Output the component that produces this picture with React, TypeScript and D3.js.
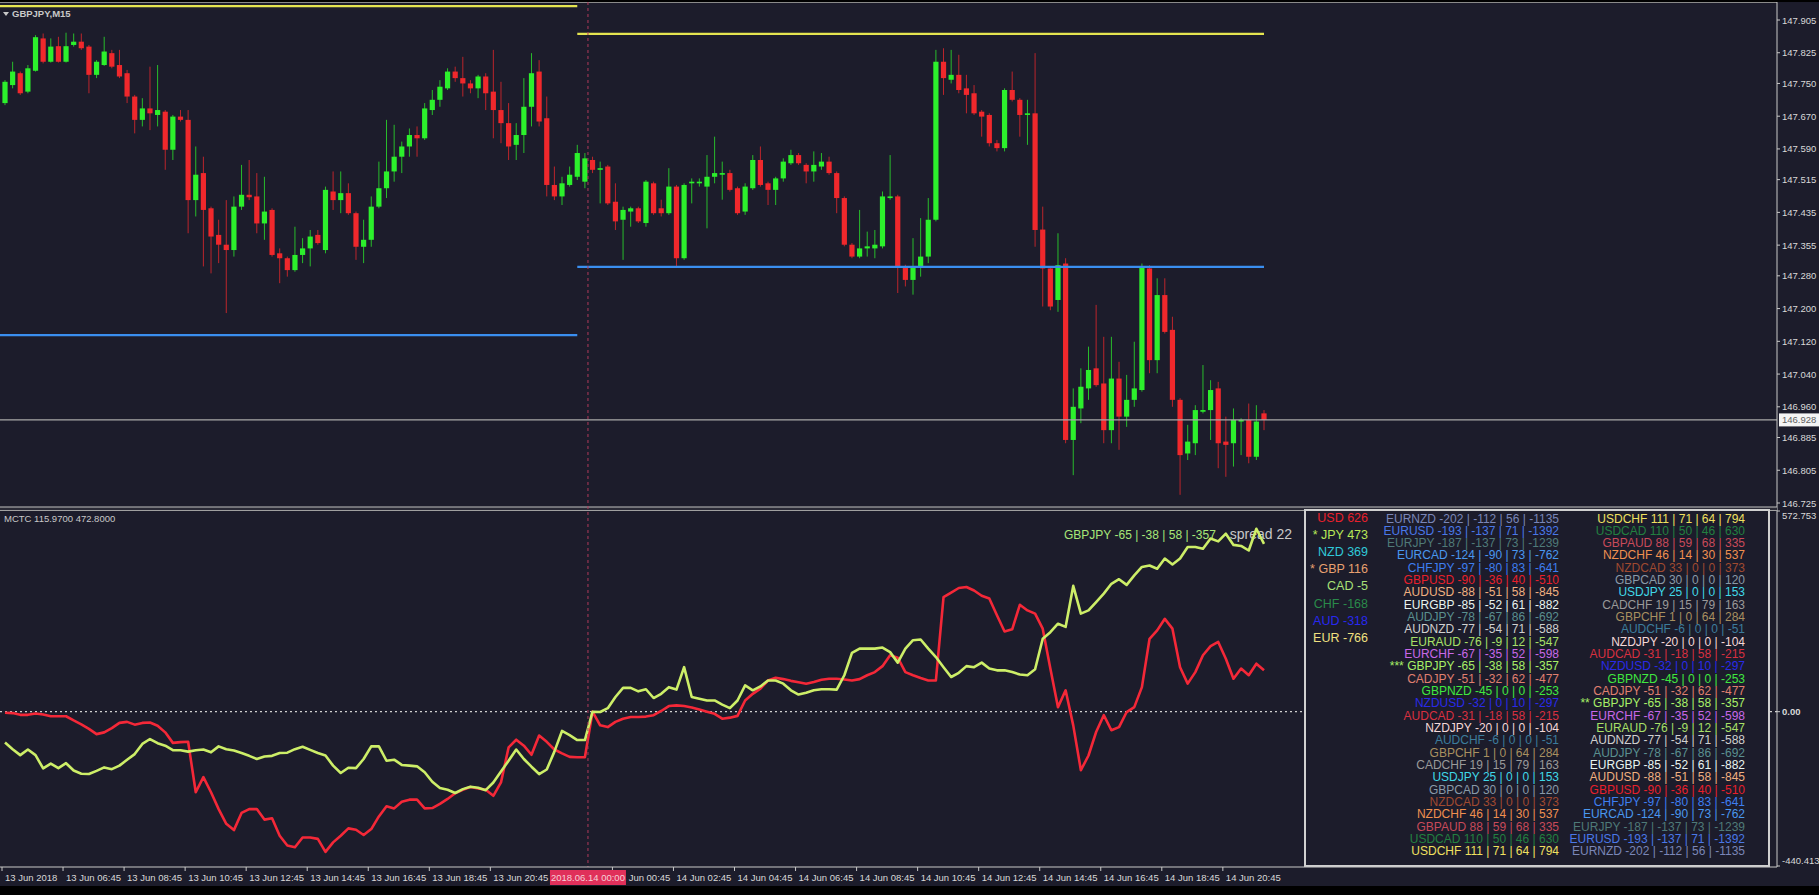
import React from "react"
import { scaleLinear, line } from "d3"

// chart frame
const WIDTH = 1819
const HEIGHT = 895
const BG = "#1c1c2b"
const AXIS_X = 1777
const SEP_Y = 509
const LOWER_BOTTOM = 867

// GBPJPY M15 candles [open, high, low, close], bar 0 = 13 Jun 04:45
const candles: [number, number, number, number][] = [
  [147.702, 147.758, 147.697, 147.754], [147.746, 147.803, 147.738, 147.779], [147.775, 147.779, 147.722, 147.726],
  [147.730, 147.795, 147.726, 147.787], [147.781, 147.868, 147.779, 147.863], [147.860, 147.872, 147.799, 147.803],
  [147.803, 147.860, 147.801, 147.840], [147.841, 147.864, 147.801, 147.803], [147.803, 147.874, 147.801, 147.841],
  [147.844, 147.872, 147.840, 147.852], [147.852, 147.872, 147.832, 147.836], [147.840, 147.844, 147.726, 147.771],
  [147.771, 147.807, 147.763, 147.803], [147.795, 147.864, 147.793, 147.828], [147.824, 147.832, 147.787, 147.791],
  [147.795, 147.832, 147.763, 147.767], [147.775, 147.783, 147.702, 147.718], [147.718, 147.722, 147.628, 147.661],
  [147.661, 147.714, 147.645, 147.689], [147.689, 147.791, 147.636, 147.677], [147.673, 147.795, 147.645, 147.685],
  [147.681, 147.685, 147.539, 147.588], [147.588, 147.673, 147.563, 147.669], [147.669, 147.685, 147.657, 147.661],
  [147.661, 147.685, 147.384, 147.465], [147.465, 147.596, 147.425, 147.527], [147.531, 147.571, 147.303, 147.441],
  [147.445, 147.449, 147.286, 147.376], [147.380, 147.417, 147.311, 147.356], [147.356, 147.465, 147.189, 147.343],
  [147.343, 147.474, 147.327, 147.449], [147.449, 147.551, 147.441, 147.478], [147.478, 147.563, 147.465, 147.472],
  [147.474, 147.531, 147.384, 147.408], [147.408, 147.522, 147.368, 147.437], [147.441, 147.445, 147.327, 147.331],
  [147.335, 147.347, 147.262, 147.323], [147.323, 147.327, 147.278, 147.294], [147.294, 147.400, 147.290, 147.331],
  [147.331, 147.372, 147.311, 147.347], [147.347, 147.392, 147.303, 147.376], [147.380, 147.392, 147.356, 147.360],
  [147.343, 147.498, 147.335, 147.490], [147.486, 147.535, 147.441, 147.465], [147.465, 147.535, 147.433, 147.482],
  [147.482, 147.506, 147.429, 147.433], [147.433, 147.437, 147.319, 147.351], [147.351, 147.417, 147.311, 147.368],
  [147.368, 147.474, 147.351, 147.449], [147.449, 147.559, 147.445, 147.494], [147.494, 147.661, 147.470, 147.535],
  [147.535, 147.649, 147.510, 147.571], [147.571, 147.608, 147.531, 147.596], [147.596, 147.640, 147.571, 147.624],
  [147.624, 147.645, 147.571, 147.616], [147.616, 147.702, 147.612, 147.689], [147.685, 147.734, 147.673, 147.710],
  [147.710, 147.758, 147.693, 147.742], [147.738, 147.787, 147.734, 147.779], [147.779, 147.791, 147.754, 147.763],
  [147.763, 147.815, 147.718, 147.750], [147.750, 147.758, 147.726, 147.738], [147.738, 147.771, 147.714, 147.767],
  [147.767, 147.775, 147.685, 147.726], [147.730, 147.832, 147.616, 147.685], [147.685, 147.754, 147.604, 147.653],
  [147.653, 147.702, 147.563, 147.596], [147.600, 147.653, 147.563, 147.624], [147.624, 147.763, 147.580, 147.693],
  [147.693, 147.824, 147.645, 147.775], [147.779, 147.807, 147.645, 147.657], [147.665, 147.718, 147.474, 147.502],
  [147.502, 147.547, 147.465, 147.474], [147.474, 147.522, 147.453, 147.506], [147.502, 147.547, 147.498, 147.527],
  [147.522, 147.600, 147.514, 147.580], [147.510, 147.580, 147.494, 147.567], [147.563, 147.571, 147.531, 147.539],
  // 14 Jun
  [147.539, 147.559, 147.457, 147.543], [147.547, 147.551, 147.453, 147.457], [147.461, 147.506, 147.392, 147.413],
  [147.417, 147.449, 147.319, 147.441], [147.437, 147.449, 147.400, 147.445], [147.445, 147.449, 147.409, 147.413],
  [147.409, 147.514, 147.400, 147.510], [147.506, 147.510, 147.429, 147.433], [147.445, 147.466, 147.425, 147.433],
  [147.433, 147.543, 147.429, 147.498], [147.498, 147.502, 147.303, 147.323], [147.323, 147.506, 147.319, 147.502],
  [147.506, 147.518, 147.457, 147.510], [147.506, 147.518, 147.498, 147.510], [147.498, 147.575, 147.396, 147.522],
  [147.522, 147.620, 147.506, 147.531], [147.527, 147.559, 147.466, 147.531], [147.531, 147.539, 147.486, 147.490],
  [147.494, 147.498, 147.429, 147.433], [147.437, 147.506, 147.429, 147.498], [147.494, 147.575, 147.490, 147.563],
  [147.563, 147.596, 147.498, 147.502], [147.506, 147.510, 147.453, 147.490], [147.490, 147.522, 147.453, 147.518],
  [147.518, 147.567, 147.510, 147.559], [147.555, 147.588, 147.551, 147.575], [147.575, 147.580, 147.551, 147.555],
  [147.551, 147.555, 147.506, 147.535], [147.535, 147.584, 147.510, 147.551], [147.547, 147.580, 147.539, 147.559],
  [147.559, 147.571, 147.527, 147.531], [147.531, 147.535, 147.433, 147.470], [147.470, 147.474, 147.352, 147.356],
  [147.356, 147.360, 147.323, 147.327], [147.327, 147.441, 147.323, 147.347], [147.347, 147.388, 147.327, 147.352],
  [147.347, 147.392, 147.323, 147.356], [147.352, 147.486, 147.347, 147.474], [147.470, 147.575, 147.466, 147.474],
  [147.474, 147.478, 147.238, 147.303], [147.303, 147.307, 147.254, 147.270], [147.270, 147.372, 147.234, 147.303],
  [147.303, 147.421, 147.278, 147.327], [147.327, 147.470, 147.311, 147.417], [147.417, 147.832, 147.413, 147.803],
  [147.803, 147.836, 147.722, 147.763], [147.759, 147.832, 147.750, 147.771], [147.771, 147.820, 147.726, 147.734],
  [147.738, 147.771, 147.677, 147.722], [147.726, 147.746, 147.673, 147.677], [147.681, 147.685, 147.620, 147.669],
  [147.673, 147.677, 147.596, 147.604], [147.604, 147.612, 147.584, 147.592], [147.592, 147.738, 147.584, 147.734],
  [147.734, 147.779, 147.706, 147.710], [147.710, 147.714, 147.620, 147.673], [147.673, 147.710, 147.600, 147.677],
  [147.677, 147.824, 147.351, 147.392], [147.393, 147.449, 147.205, 147.298], [147.298, 147.302, 147.196, 147.205],
  [147.221, 147.384, 147.192, 147.306], [147.310, 147.323, 146.871, 146.879], [146.879, 147.005, 146.793, 146.960],
  [146.956, 147.054, 146.920, 147.009], [147.005, 147.107, 146.977, 147.050], [147.054, 147.209, 147.009, 147.013],
  [147.017, 147.131, 146.871, 146.903], [146.903, 147.131, 146.871, 147.029], [147.029, 147.070, 146.855, 146.936],
  [146.936, 147.038, 146.911, 146.977], [146.977, 147.119, 146.960, 147.005], [147.001, 147.310, 146.997, 147.302],
  [147.298, 147.306, 147.042, 147.074], [147.074, 147.274, 147.042, 147.233], [147.233, 147.274, 147.139, 147.143],
  [147.148, 147.180, 146.960, 146.977], [146.977, 146.981, 146.745, 146.842], [146.846, 146.916, 146.830, 146.875],
  [146.871, 146.964, 146.842, 146.952], [146.948, 147.062, 146.944, 146.952], [146.952, 147.025, 146.879, 147.001],
  [147.005, 147.021, 146.810, 146.871], [146.875, 146.936, 146.789, 146.867], [146.871, 146.956, 146.814, 146.928],
  [146.924, 146.932, 146.842, 146.928], [146.928, 146.968, 146.822, 146.838], [146.838, 146.964, 146.830, 146.924],
  [146.944, 146.952, 146.903, 146.928],
]

// daily high / low levels [fromBar, toBar, high, low]
const levels: [number, number, number, number][] = [
  [-1, 75, 147.939, 147.135],
  [75, 165, 147.871, 147.302],
]

const lastPrice = 146.928
const separatorBar = 76.4

const priceTicks = [
  147.905, 147.825, 147.75, 147.67, 147.59, 147.515, 147.435, 147.355, 147.28, 147.2, 147.12, 147.04, 146.96,
  146.885, 146.805, 146.725,
]

const timeTicks: [number, string][] = [
  [0, "13 Jun 2018"], [8, "13 Jun 06:45"], [16, "13 Jun 08:45"], [24, "13 Jun 10:45"], [32, "13 Jun 12:45"],
  [40, "13 Jun 14:45"], [48, "13 Jun 16:45"], [56, "13 Jun 18:45"], [64, "13 Jun 20:45"],
  [80, "14 Jun 00:45"], [88, "14 Jun 02:45"], [96, "14 Jun 04:45"], [104, "14 Jun 06:45"], [112, "14 Jun 08:45"],
  [120, "14 Jun 10:45"], [128, "14 Jun 12:45"], [136, "14 Jun 14:45"], [144, "14 Jun 16:45"], [152, "14 Jun 18:45"],
  [160, "14 Jun 20:45"],
]

// MCTC indicator window
const indMax = 572.753
const indMin = -440.413
const redLine = [
  -3, -4, -9, -9, -5, -8, -13, -13, -13, -25,
  -36, -49, -64, -59, -47, -32, -29, -37, -32, -31,
  -40, -59, -89, -87, -86, -230, -187, -230, -278, -320,
  -338, -289, -278, -278, -308, -304, -354, -382, -387, -359,
  -359, -363, -400, -373, -354, -333, -337, -352, -335, -299,
  -270, -276, -257, -251, -251, -276, -275, -263, -249, -233,
  -223, -215, -219, -223, -240, -202, -102, -80, -97, -123,
  -68, -86, -108, -119, -129, -130, -130, 0, -39, -44,
  -29, -20, -15, -15, -14, -10, 2, 16, 18, 16,
  12, 6, 0, -6, -20, -17, -12, 32, 51, 66,
  89, 97, 93, 88, 84, 80, 85, 91, 94, 94,
  92, 89, 93, 104, 113, 130, 161, 154, 113, 104,
  96, 89, 89, 327, 340, 353, 356, 346, 331, 323,
  275, 229, 235, 305, 289, 280, 237, 123, 13, 61,
  -39, -167, -125, -58, -10, -53, -44, -1, 13, 70,
  208, 232, 265, 237, 127, 80, 113, 161, 187, 199,
  151, 94, 123, 104, 137, 118,
]
const greenLine = [
  -88, -107, -124, -108, -124, -162, -148, -161, -147, -168,
  -177, -178, -169, -159, -164, -154, -137, -121, -92, -78,
  -90, -97, -110, -110, -114, -110, -108, -116, -99, -107,
  -111, -118, -126, -135, -128, -126, -118, -117, -107, -100,
  -109, -118, -125, -154, -175, -160, -161, -135, -99, -99,
  -140, -137, -152, -154, -156, -173, -200, -218, -223, -232,
  -221, -214, -217, -224, -202, -171, -140, -108, -135, -157,
  -178, -165, -114, -55, -67, -81, -81, 0, -1, 10,
  42, 68, 68, 58, 64, 39, 51, 70, 63, 127,
  42, 37, 32, 32, 20, 10, 32, 75, 61, 72,
  89, 89, 80, 61, 49, 54, 61, 64, 64, 63,
  104, 168, 180, 180, 180, 183, 170, 140, 180, 204,
  206, 180, 156, 127, 99, 111, 130, 127, 140, 123,
  118, 118, 113, 106, 104, 121, 208, 227, 251, 242,
  359, 280, 289, 313, 337, 365, 378, 362, 389, 413,
  417, 408, 437, 420, 437, 470, 470, 465, 494, 486,
  508, 476, 473, 460, 522, 479,
]

// currency strength column
const currencies: [string, string][] = [
  ["USD 626", "#e8202c"],
  ["* JPY 473", "#b8e858"],
  ["NZD 369", "#30c8d8"],
  ["* GBP 116", "#e8a070"],
  ["CAD -5", "#a8e078"],
  ["CHF -168", "#2a8a4a"],
  ["AUD -318", "#2828f0"],
  ["EUR -766", "#f0e080"],
]

// pair rows [pair, values, colour]
const pairs: [string, string, string][] = [
  ["EURNZD", "-202 | -112 | 56 | -1135", "#7a86b8"],
  ["EURUSD", "-193 | -137 | 71 | -1392", "#4a78e8"],
  ["EURJPY", "-187 | -137 | 73 | -1239", "#4f7a78"],
  ["EURCAD", "-124 | -90 | 73 | -762", "#4a98f0"],
  ["CHFJPY", "-97 | -80 | 83 | -641", "#3e7ef0"],
  ["GBPUSD", "-90 | -36 | 40 | -510", "#e8202c"],
  ["AUDUSD", "-88 | -51 | 58 | -845", "#f0b080"],
  ["EURGBP", "-85 | -52 | 61 | -882", "#e8f4f0"],
  ["AUDJPY", "-78 | -67 | 86 | -692", "#5a9090"],
  ["AUDNZD", "-77 | -54 | 71 | -588", "#d0d0d0"],
  ["EURAUD", "-76 | -9 | 12 | -547", "#a8e068"],
  ["EURCHF", "-67 | -35 | 52 | -598", "#c868e8"],
  ["GBPJPY", "-65 | -38 | 58 | -357", "#a8f068"],
  ["CADJPY", "-51 | -32 | 62 | -477", "#e08070"],
  ["GBPNZD", "-45 | 0 | 0 | -253", "#40e840"],
  ["NZDUSD", "-32 | 0 | 10 | -297", "#2a2ae8"],
  ["AUDCAD", "-31 | -18 | 58 | -215", "#d83040"],
  ["NZDJPY", "-20 | 0 | 0 | -104", "#f4d8d8"],
  ["AUDCHF", "-6 | 0 | 0 | -51", "#3c7c9c"],
  ["GBPCHF", "1 | 0 | 64 | 284", "#a89060"],
  ["CADCHF", "19 | 15 | 79 | 163", "#9a9a9a"],
  ["USDJPY", "25 | 0 | 0 | 153", "#40d8e8"],
  ["GBPCAD", "30 | 0 | 0 | 120", "#8a9aa8"],
  ["NZDCAD", "33 | 0 | 0 | 373", "#a04a30"],
  ["NZDCHF", "46 | 14 | 30 | 537", "#f09050"],
  ["GBPAUD", "88 | 59 | 68 | 335", "#c84a5a"],
  ["USDCAD", "110 | 50 | 46 | 630", "#228040"],
  ["USDCHF", "111 | 71 | 64 | 794", "#f0e060"],
]
const chartPair = "GBPJPY"

const UP = "#2cf02c"
const DOWN = "#f0282c"
const AXIS_TEXT = "#d8d8d8"

export default function App() {
  const x = scaleLinear().domain([0, 165]).range([5, 1264])
  const yPrice = scaleLinear().domain([146.725, 147.905]).range([503, 20])
  const yInd = scaleLinear().domain([indMin, indMax]).range([LOWER_BOTTOM - 1, SEP_Y + 2])

  const indPath = line<number>()
    .x((_, i) => x(i))
    .y((d) => yInd(d))

  const sepX = x(separatorBar)
  const rowY = (i: number) => 518 + i * 12.33
  const pairText = (p: [string, string, string], stars: string) =>
    `${p[0] === chartPair ? stars + " " : ""}${p[0]} ${p[1]}`
  const reversed = [...pairs].reverse()

  return (
    <svg
      width={WIDTH}
      height={HEIGHT}
      style={{ position: "absolute", left: 0, top: 0, display: "block" }}
      fontFamily="'Liberation Sans', Arial, sans-serif"
    >
      <rect width={WIDTH} height={HEIGHT} fill={BG} />
      <rect width={WIDTH} height={2} fill="#000" />
      <line x1={0} x2={AXIS_X} y1={2.5} y2={2.5} stroke="#8a8a8a" />

      {/* upper panel title */}
      <path d="M3,12 L9,12 L6,16 Z" fill="#c8c8c8" />
      <text x={12} y={17} fontSize={9.5} fill="#c8c8c8" fontWeight="bold">
        GBPJPY,M15
      </text>

      {/* candles */}
      {candles.map(([o, h, l, c], i) => {
        const col = c >= o ? UP : DOWN
        const top = yPrice(Math.max(o, c))
        const bot = yPrice(Math.min(o, c))
        return (
          <g key={i}>
            <line x1={x(i)} x2={x(i)} y1={yPrice(h)} y2={yPrice(l)} stroke={col} strokeOpacity={0.75} />
            <rect x={x(i) - 2.6} y={top} width={5.2} height={Math.max(1.2, bot - top)} fill={col} />
          </g>
        )
      })}

      {/* daily high / low */}
      {levels.map(([a, b, hi, lo], i) => (
        <g key={i}>
          <line x1={Math.max(0, x(a))} x2={x(b)} y1={yPrice(hi)} y2={yPrice(hi)} stroke="#e4e450" strokeWidth={2.2} />
          <line x1={Math.max(0, x(a))} x2={x(b)} y1={yPrice(lo)} y2={yPrice(lo)} stroke="#3a8ef0" strokeWidth={2.2} />
        </g>
      ))}

      {/* last price line */}
      <line x1={0} x2={AXIS_X} y1={yPrice(lastPrice)} y2={yPrice(lastPrice)} stroke="#a8a8a8" strokeWidth={1.2} />

      {/* price axis */}
      <line x1={AXIS_X} x2={AXIS_X} y1={2} y2={LOWER_BOTTOM} stroke="#c8c8c8" />
      {priceTicks.map((p) => (
        <g key={p}>
          <line x1={AXIS_X} x2={AXIS_X + 3} y1={yPrice(p)} y2={yPrice(p)} stroke="#c8c8c8" />
          <text x={AXIS_X + 5} y={yPrice(p) + 3.5} fontSize={9.5} fill={AXIS_TEXT}>
            {p.toFixed(3)}
          </text>
        </g>
      ))}
      <rect x={AXIS_X + 2} y={yPrice(lastPrice) - 6.5} width={40} height={13} fill="#f4f4f4" />
      <text x={AXIS_X + 5} y={yPrice(lastPrice) + 3.5} fontSize={9.5} fill="#606060">
        {lastPrice.toFixed(3)}
      </text>

      {/* panel separator */}
      <rect x={0} y={SEP_Y - 2} width={AXIS_X} height={4} fill="#2a2a36" />
      <line x1={0} x2={AXIS_X} y1={SEP_Y - 2} y2={SEP_Y - 2} stroke="#c0c0c0" strokeWidth={1.2} />
      <line x1={0} x2={AXIS_X} y1={SEP_Y + 1.5} y2={SEP_Y + 1.5} stroke="#a0a0a0" strokeWidth={1.2} />

      {/* lower panel */}
      <text x={4} y={522} fontSize={9.5} fill="#c8c8c8">
        MCTC 115.9700 472.8000
      </text>
      <line
        x1={0}
        x2={AXIS_X}
        y1={yInd(0)}
        y2={yInd(0)}
        stroke="#d0d0d0"
        strokeDasharray="2,3"
        strokeWidth={1.2}
      />
      <text x={1064} y={539} fontSize={12} fill="#a8e878">
        GBPJPY -65 | -38 | 58 | -357
      </text>
      <text x={1292} y={539} fontSize={14} fill="#c8c8c8" textAnchor="end">
        spread 22
      </text>
      <path d={indPath(redLine) ?? ""} fill="none" stroke="#f42838" strokeWidth={2.6} strokeLinejoin="round" />
      <path d={indPath(greenLine) ?? ""} fill="none" stroke="#cdee68" strokeWidth={2.6} strokeLinejoin="round" />

      {[indMax, 0, indMin].map((v) => (
        <g key={v}>
          <line x1={AXIS_X} x2={AXIS_X + 3} y1={yInd(v)} y2={yInd(v)} stroke="#c8c8c8" />
          <text
            x={AXIS_X + 5}
            y={v === indMax ? yInd(v) + 8 : v === indMin ? yInd(v) - 2 : yInd(v) + 3.5}
            fontSize={9.5}
            fill={AXIS_TEXT}
            fontWeight={v === 0 ? "bold" : "normal"}
          >
            {v === 0 ? "0.00" : v.toFixed(3)}
          </text>
        </g>
      ))}

      {/* session separator */}
      <line x1={sepX} x2={sepX} y1={2} y2={LOWER_BOTTOM} stroke="#b03a5a" strokeDasharray="3,3" />

      {/* table */}
      <rect x={1305} y={SEP_Y + 1} width={464} height={LOWER_BOTTOM - SEP_Y - 2} fill={BG} stroke="#d0d0d0" strokeWidth={2} />
      {currencies.map(([t, col], i) => (
        <text key={t} x={1368} y={522 + i * 17.1} fontSize={12.5} fill={col} textAnchor="end">
          {t}
        </text>
      ))}
      {pairs.map((p, i) => (
        <text key={"a" + p[0]} x={1559} y={rowY(i) + 4.5} fontSize={12} fill={p[2]} textAnchor="end">
          {pairText(p, "***")}
        </text>
      ))}
      {reversed.map((p, i) => (
        <text key={"b" + p[0]} x={1745} y={rowY(i) + 4.5} fontSize={12} fill={p[2]} textAnchor="end">
          {pairText(p, "**")}
        </text>
      ))}

      {/* time axis */}
      <line x1={0} x2={AXIS_X} y1={LOWER_BOTTOM} y2={LOWER_BOTTOM} stroke="#c8c8c8" />
      {timeTicks.map(([b, t]) => (
        <g key={t}>
          <line x1={x(b) - 3} x2={x(b) - 3} y1={LOWER_BOTTOM} y2={LOWER_BOTTOM + 4} stroke="#c8c8c8" />
          <text x={x(b)} y={LOWER_BOTTOM + 14} fontSize={9.5} fill={AXIS_TEXT}>
            {t}
          </text>
        </g>
      ))}
      <rect x={sepX - 38} y={LOWER_BOTTOM + 3} width={76} height={15} fill="#e0305a" />
      <text x={sepX} y={LOWER_BOTTOM + 14} fontSize={9.5} fill="#f4d0d8" textAnchor="middle">
        2018.06.14 00:00
      </text>
      <rect x={0} y={886} width={WIDTH} height={HEIGHT - 886} fill="#000" />
    </svg>
  )
}
